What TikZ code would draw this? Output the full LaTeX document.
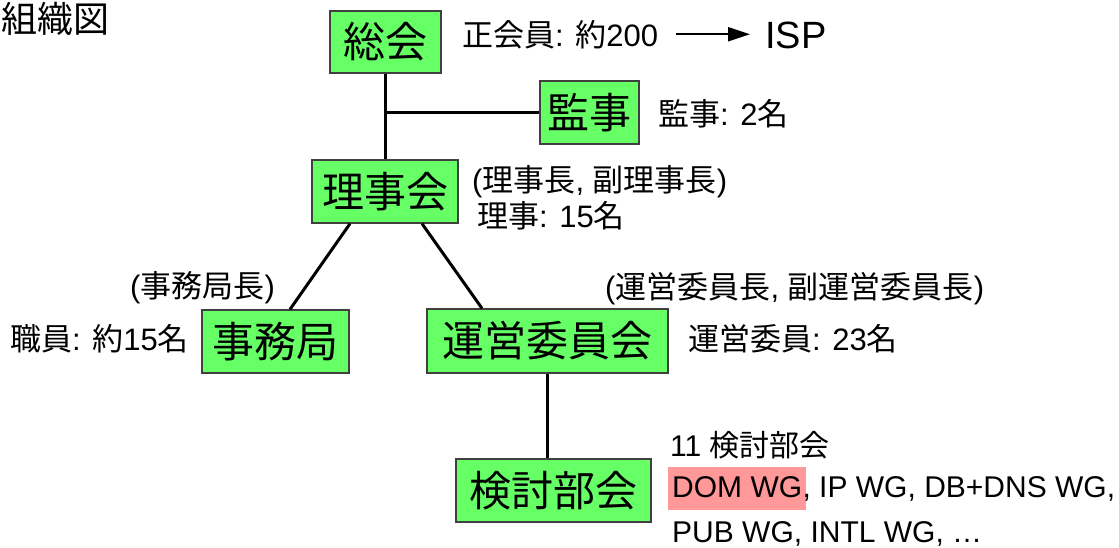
\documentclass[tikz,border=0pt]{standalone}
\usepackage{fontspec}
\setmainfont{Liberation Sans}
\newfontfamily\jpfont{Noto Sans CJK JP}
\newcommand{\J}[1]{{\jpfont #1}}
\usetikzlibrary{arrows.meta}
\definecolor{boxgreen}{HTML}{66FF66}
\definecolor{boxedge}{HTML}{404040}
\definecolor{markpink}{HTML}{FF9999}
\tikzset{
	orgbox/.style={draw=boxedge,line width=1.3pt,fill=boxgreen,inner sep=0pt,minimum height=63pt,font=\jpfont\fontsize{42}{48}\selectfont},
	note/.style={inner sep=0pt,anchor=base west,font=\fontsize{31}{36}\selectfont},
	link/.style={line width=3pt},
}
\begin{document}
\begin{tikzpicture}[x=1pt,y=-1pt]
	\useasboundingbox (0,0) rectangle (1119,547);
	\node[note,font=\jpfont\fontsize{36}{44}\selectfont] (title) at (1,32) {組織図};
	% boxes
	\node[orgbox,minimum width=111pt,minimum height=62pt] (sokai) at (385.5,42) {総会};
	\node[orgbox,minimum width=99pt] (kanji) at (589.5,112.5) {監事};
	\node[orgbox,minimum width=146pt] (rijikai) at (385,191.5) {理事会};
	\node[orgbox,minimum width=147pt] (jimukyoku) at (275.5,341.5) {事務局};
	\node[orgbox,minimum width=241pt,minimum height=64pt] (unei) at (547.5,341) {運営委員会};
	\node[orgbox,minimum width=195pt] (kento) at (553.5,490.5) {検討部会};
	% lines
	\draw[link] (sokai.south) -- (sokai.south |- rijikai.north);
	\coordinate (fork) at (sokai.south |- kanji.west);
	\draw[link] (fork) -- (kanji.west);
	\draw[link] ([xshift=-35pt]rijikai.south) -- ([xshift=14.5pt]jimukyoku.north);
	\draw[link] ([xshift=37pt]rijikai.south) -- ([xshift=-65.5pt]unei.north);
	\draw[link] (unei.south) -- (unei.south |- kento.north);
	% notes
	\node[note] (seikai) at (462,46) {\J{正会員}: \J{約}200};
	\node[note,font=\fontsize{38}{44}\selectfont] (isp) at (765,48) {ISP};
	\draw[line width=2pt,-{Triangle[length=22pt,width=14pt]},shorten <=18pt,shorten >=15pt] (seikai.east) -- (seikai.east -| isp.west);
	\node[note] (kanjinote) at (658,125) {\J{監事}: 2\J{名}};
	\node[note] (rijinote) at (472,191) {(\J{理事長}, \J{副理事長})};
	\node[note] (rijisu) at (477,227) {\J{理事}: 15\J{名}};
	\node[note] (kyokucho) at (130,297) {(\J{事務局長})};
	\node[note] (shokuin) at (10,350) {\J{職員}: \J{約}15\J{名}};
	\node[note] (uneinote) at (605,298) {(\J{運営委員長}, \J{副運営委員長})};
	\node[note] (uneisu) at (688,350) {\J{運営委員}: 23\J{名}};
	\node[note,font=\fontsize{30}{36}\selectfont] (kentosu) at (670,456) {11 \J{検討部会}};
	\node[note,font=\fontsize{30}{36}\selectfont,fill=markpink,inner xsep=4pt,text height=30pt,text depth=13pt] (dom) at (668,497) {DOM WG};
	\node[note,font=\fontsize{30}{36}\selectfont] (wgrest) at ([xshift=-4pt]dom.base east) {, IP WG, DB+DNS WG,};
	\node[note,font=\fontsize{30}{36}\selectfont] (wgmore) at (672,542) {PUB WG, INTL WG, …};
\end{tikzpicture}
\end{document}
